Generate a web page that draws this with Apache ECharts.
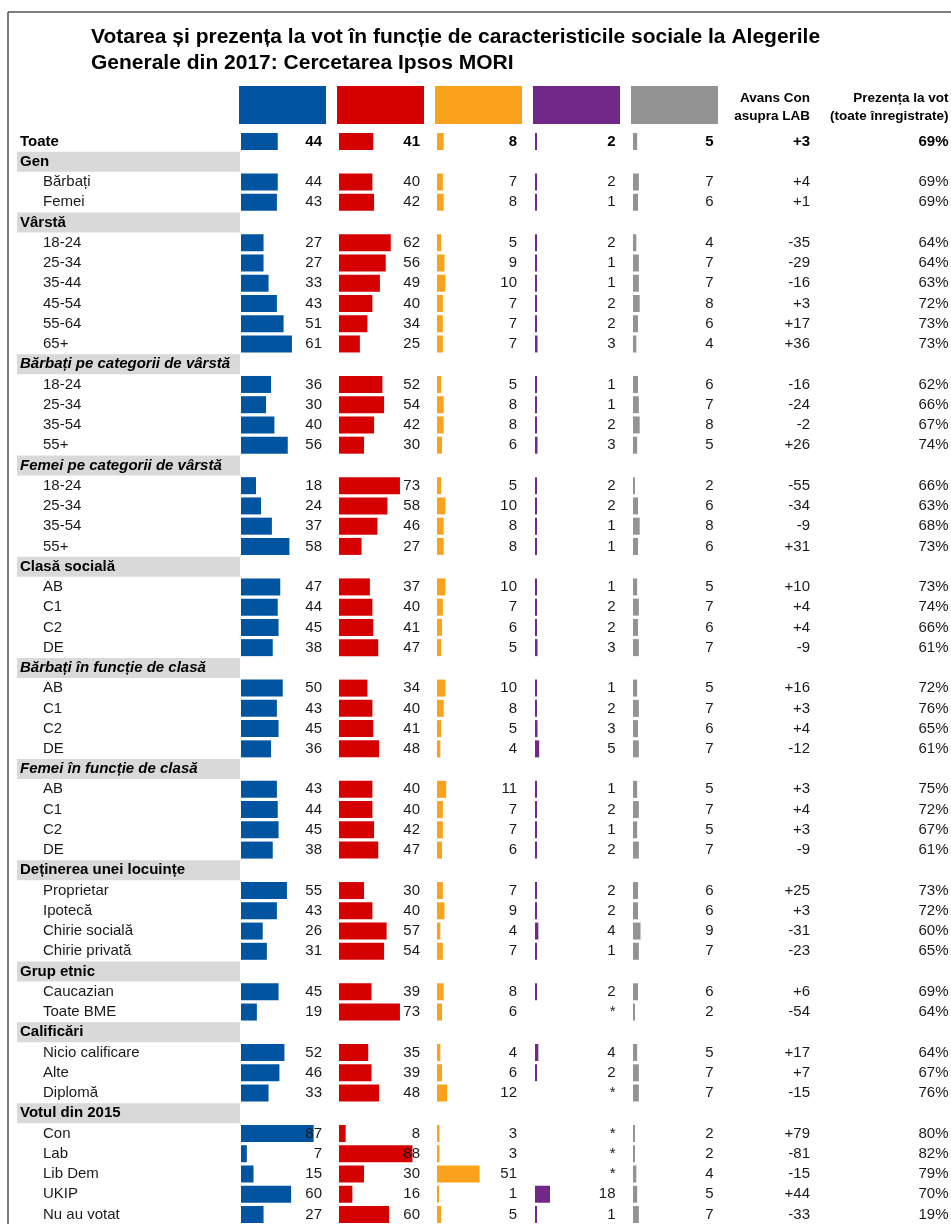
<!DOCTYPE html>
<html><head><meta charset="utf-8">
<script src="https://cdn.jsdelivr.net/npm/echarts@6/dist/echarts.min.js"></script>
<style>html,body{margin:0;padding:0;background:#fff}#c{width:951px;height:1224px}</style>
</head><body><div id="c"></div>
<script>
// ---------- DATA ----------
const rowLabels = [
  'Toate','Gen','Bărbați','Femei','Vârstă','18-24','25-34','35-44','45-54','55-64','65+',
  'Bărbați pe categorii de vârstă','18-24','25-34','35-54','55+',
  'Femei pe categorii de vârstă','18-24','25-34','35-54','55+',
  'Clasă socială','AB','C1','C2','DE',
  'Bărbați în funcție de clasă','AB','C1','C2','DE',
  'Femei în funcție de clasă','AB','C1','C2','DE',
  'Deținerea unei locuințe','Proprietar','Ipotecă','Chirie socială','Chirie privată',
  'Grup etnic','Caucazian','Toate BME',
  'Calificări','Nicio calificare','Alte','Diplomă',
  'Votul din 2015','Con','Lab','Lib Dem','UKIP','Nu au votat'
];
const rowTypes = [
  't','h','s','s','h','s','s','s','s','s','s',
  'hi','s','s','s','s',
  'hi','s','s','s','s',
  'h','s','s','s','s',
  'hi','s','s','s','s',
  'hi','s','s','s','s',
  'h','s','s','s','s',
  'h','s','s',
  'h','s','s','s',
  'h','s','s','s','s','s'
];
const conValues = [44,null,44,43,null,27,27,33,43,51,61,null,36,30,40,56,null,18,24,37,58,null,47,44,45,38,null,50,43,45,36,null,43,44,45,38,null,55,43,26,31,null,45,19,null,52,46,33,null,87,7,15,60,27];
const labValues = [41,null,40,42,null,62,56,49,40,34,25,null,52,54,42,30,null,73,58,46,27,null,37,40,41,47,null,34,40,41,48,null,40,40,42,47,null,30,40,57,54,null,39,73,null,35,39,48,null,8,88,30,16,60];
const libDemValues = [8,null,7,8,null,5,9,10,7,7,7,null,5,8,8,6,null,5,10,8,8,null,10,7,6,5,null,10,8,5,4,null,11,7,7,6,null,7,9,4,7,null,8,6,null,4,6,12,null,3,3,51,1,5];
// null in a non-header row = "*" (less than 0.5%)
const ukipValues = [2,null,2,1,null,2,1,1,2,2,3,null,1,1,2,3,null,2,2,1,1,null,1,2,2,3,null,1,2,3,5,null,1,2,1,2,null,2,2,4,1,null,2,null,null,4,2,null,null,null,null,null,18,1];
const otherValues = [5,null,7,6,null,4,7,7,8,6,4,null,6,7,8,5,null,2,6,8,6,null,5,7,6,7,null,5,7,6,7,null,5,7,5,7,null,6,6,9,7,null,6,2,null,5,7,7,null,2,2,4,5,7];
const conLeadValues = [3,null,4,1,null,-35,-29,-16,3,17,36,null,-16,-24,-2,26,null,-55,-34,-9,31,null,10,4,4,-9,null,16,3,4,-12,null,3,4,3,-9,null,25,3,-31,-23,null,6,-54,null,17,7,-15,null,79,-81,-15,44,-33];
const turnoutValues = [69,null,69,69,null,64,64,63,72,73,73,null,62,66,67,74,null,66,63,68,73,null,73,74,66,61,null,72,76,65,61,null,75,72,67,61,null,73,72,60,65,null,69,64,null,64,67,76,null,80,82,79,70,19];

const partyNames = ['Con','Lab','Lib Dem','UKIP','Alții'];
const partyColors = ['#0054a0','#d50000','#fba21c','#722889','#939393'];
const partyValues = [conValues, labValues, libDemValues, ukipValues, otherValues];
const titleText = 'Votarea și prezența la vot în funcție de caracteristicile sociale la Alegerile\nGenerale din 2017: Cercetarea Ipsos MORI';
const leadHeader = 'Avans Con\nasupra LAB';
const turnoutHeader = 'Prezența la vot\n(toate înregistrate)';

// ---------- LAYOUT ----------
const FONT = '"Liberation Sans", Arial, sans-serif';
const TXT = '#1a1a1a';
const ROW_TOP = 131.4, ROW_H = 1093.2;
const COL_LEFT = [241, 339, 437, 535, 633];
const XMAX = 100, PX_PER_UNIT = 0.835;
const GRID_W = XMAX * PX_PER_UNIT;
const VALUE_RIGHT = [322, 420, 517, 615.5, 713.5];
const LEAD_RIGHT = 810, TURNOUT_RIGHT = 948.5;
const BAND_LEFT = 17, BAND_RIGHT = 240;

const cats = rowLabels.map((_, i) => String(i));
const isHeader = i => rowTypes[i] === 'h' || rowTypes[i] === 'hi';
const rich = {
  b: { fontFamily: FONT, fontSize: 15, fontWeight: 'bold', color: '#000' },
  n: { fontFamily: FONT, fontSize: 15, color: TXT }
};
function cell(i, text) {
  if (isHeader(i)) return '';
  return (i === 0 ? '{b|' : '{n|') + text + '}';
}

const grids = [], xAxes = [], yAxes = [], series = [], legends = [];
partyValues.forEach((vals, p) => {
  grids.push({ left: COL_LEFT[p], top: ROW_TOP, width: GRID_W, height: ROW_H, outerBoundsMode: 'none', containLabel: false });
  xAxes.push({ type: 'value', gridIndex: p, min: 0, max: XMAX, show: false });
  const gridRight = COL_LEFT[p] + GRID_W;
  yAxes.push({
    type: 'category', gridIndex: p, data: cats, inverse: true, position: 'right', z: 10,
    axisLine: { show: false }, axisTick: { show: false }, splitLine: { show: false },
    axisLabel: {
      interval: 0, align: 'right', margin: VALUE_RIGHT[p] - gridRight, rich,
      formatter: (v, i) => cell(i, vals[i] === null ? '*' : String(vals[i]))
    }
  });
  series.push({
    type: 'bar', name: partyNames[p], xAxisIndex: p, yAxisIndex: p,
    data: vals.map(v => v === null ? '-' : v),
    barWidth: 17, barMinHeight: 2, itemStyle: { color: partyColors[p] },
    silent: true, animation: false, z: 2
  });
  legends.push({
    data: [partyNames[p]], left: COL_LEFT[p] - 2, top: 86, padding: 0,
    itemWidth: 87, itemHeight: 38, icon: 'rect', selectedMode: false,
    formatter: () => '', textStyle: { fontSize: 1 }
  });
});

// header band grid (index 5) with row labels
grids.push({ left: BAND_LEFT, top: ROW_TOP, width: BAND_RIGHT - BAND_LEFT, height: ROW_H, outerBoundsMode: 'none', containLabel: false });
xAxes.push({ type: 'value', gridIndex: 5, min: 0, max: 1, show: false });
yAxes.push({
  type: 'category', gridIndex: 5, data: cats, inverse: true, position: 'left', z: 10,
  axisLine: { show: false }, axisTick: { show: false }, splitLine: { show: false },
  axisLabel: {
    interval: 0, align: 'left', margin: BAND_LEFT - 20,
    rich: {
      t: { fontFamily: FONT, fontSize: 15, fontWeight: 'bold', color: '#000' },
      h: { fontFamily: FONT, fontSize: 15, fontWeight: 'bold', color: '#000' },
      hi: { fontFamily: FONT, fontSize: 15, fontWeight: 'bold', fontStyle: 'italic', color: '#000' },
      s: { fontFamily: FONT, fontSize: 15, color: TXT, padding: [0, 0, 0, 23] }
    },
    formatter: (v, i) => '{' + rowTypes[i] + '|' + rowLabels[i] + '}'
  }
});
series.push({
  type: 'bar', name: 'bandă', xAxisIndex: 5, yAxisIndex: 5,
  data: rowTypes.map((t, i) => isHeader(i) ? 1 : '-'),
  barWidth: 20, itemStyle: { color: '#d9d9d9' }, silent: true, animation: false, z: 1
});

// text-only columns attached to the last party grid
const lastRight = COL_LEFT[4] + GRID_W;
yAxes.push({
  type: 'category', gridIndex: 4, data: cats, inverse: true, position: 'right', z: 10,
  axisLine: { show: false }, axisTick: { show: false }, splitLine: { show: false },
  axisLabel: {
    interval: 0, align: 'right', margin: LEAD_RIGHT - lastRight, rich,
    formatter: (v, i) => {
      const d = conLeadValues[i];
      return d === null ? '' : cell(i, (d > 0 ? '+' : '') + d);
    }
  }
});
yAxes.push({
  type: 'category', gridIndex: 4, data: cats, inverse: true, position: 'right', z: 10,
  axisLine: { show: false }, axisTick: { show: false }, splitLine: { show: false },
  axisLabel: {
    interval: 0, align: 'right', margin: TURNOUT_RIGHT - lastRight, rich,
    formatter: (v, i) => turnoutValues[i] === null ? '' : cell(i, turnoutValues[i] + '%')
  }
});

const chart = echarts.init(document.getElementById('c'), null, { renderer: 'canvas' });
chart.setOption({
  backgroundColor: '#fff',
  animation: false,
  title: [
    { text: titleText, left: 91, top: 24, padding: 0,
      textStyle: { fontFamily: FONT, fontSize: 21, fontWeight: 'bold', color: '#000', lineHeight: 26 } },
    { text: leadHeader, left: LEAD_RIGHT, textAlign: 'right', top: 89, padding: 0,
      textStyle: { fontFamily: FONT, fontSize: 13.5, fontWeight: 'bold', color: '#000', lineHeight: 18 } },
    { text: turnoutHeader, left: TURNOUT_RIGHT, textAlign: 'right', top: 89, padding: 0,
      textStyle: { fontFamily: FONT, fontSize: 13.5, fontWeight: 'bold', color: '#000', lineHeight: 18 } }
  ],
  legend: legends,
  grid: grids,
  xAxis: xAxes,
  yAxis: yAxes,
  series: series,
  graphic: [
    { type: 'line', shape: { x1: 8, y1: 12, x2: 951, y2: 12 }, style: { stroke: '#555', lineWidth: 1.5 }, silent: true },
    { type: 'line', shape: { x1: 8, y1: 12, x2: 8, y2: 1224 }, style: { stroke: '#555', lineWidth: 1.5 }, silent: true }
  ]
});
</script>
</body></html>
